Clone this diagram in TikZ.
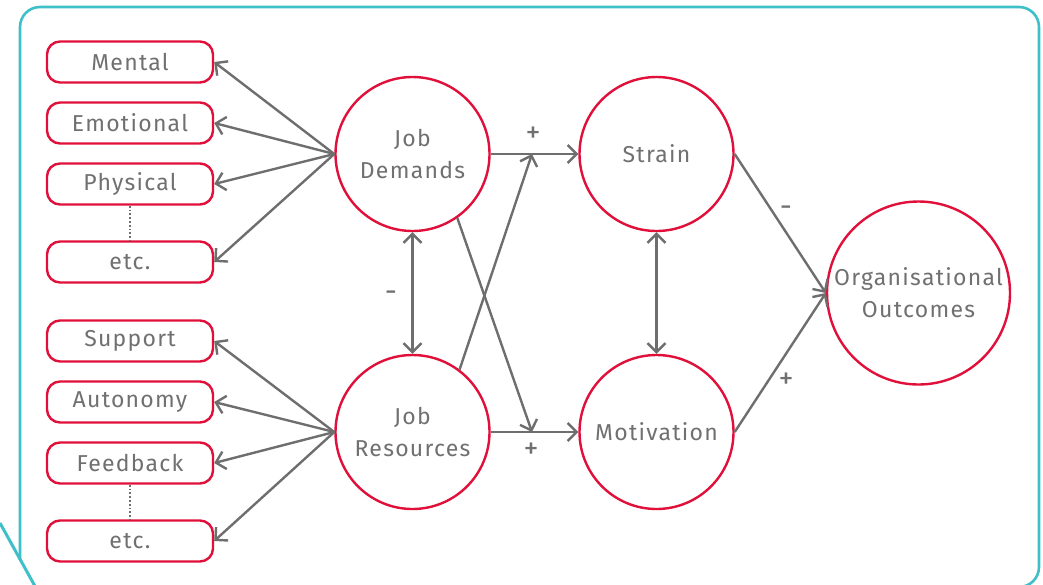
\documentclass[tikz,border=0pt]{standalone}
\usepackage{fontspec}
\setmainfont{Fira Sans}[LetterSpace=5.5]
\usetikzlibrary{arrows.meta}
\definecolor{frameteal}{HTML}{3FBFC7}
\definecolor{boxred}{HTML}{E0103A}
\definecolor{linegrey}{HTML}{6E6E6E}
\definecolor{textgrey}{HTML}{707070}
\tikzset{
  factor/.style={draw=boxred, line width=2.4pt, rounded corners=13pt, fill=white,
    minimum width=166pt, minimum height=41pt, inner sep=0pt, text=textgrey,
    font=\fontsize{23}{27}\selectfont},
  construct/.style={draw=boxred, line width=2.4pt, circle, fill=white,
    minimum size=154pt, inner sep=0pt, text=textgrey, align=center,
    font=\fontsize{23}{32}\selectfont},
  link/.style={draw=linegrey, line width=2.4pt,
    -{Straight Barb[length=9pt,width=18pt]}},
  twoway/.style={draw=linegrey, line width=2.4pt,
    {Straight Barb[length=9pt,width=18pt]}-{Straight Barb[length=9pt,width=18pt]}},
  sign/.style={text=textgrey, font=\fontsize{30}{32}\selectfont, inner sep=0pt},
  etcdots/.style={draw=linegrey, line width=1.8pt, dotted}
}
\begin{document}
\begin{tikzpicture}[x=1pt,y=-1pt]
\useasboundingbox (0,0) rectangle (1043,584);

% outer frame and corner stroke
\draw[frameteal, line width=2.6pt, rounded corners=20pt]
  (20,560) -- (20,7) -- (1039,7) -- (1039,587) -- (990,587);
\draw[frameteal, line width=3pt] (0,523) -- (36,588);

% demand factors
\node[factor] (mental) at (130,62) {Mental};
\node[factor] (emot) at (130,123) {Emotional};
\node[factor] (phys) at (130,184) {Physical};
\node[factor] (detc) at (130,262) {etc.};
% resource factors
\node[factor] (supp) at (130,341) {Support};
\node[factor] (auto) at (130,402) {Autonomy};
\node[factor] (feed) at (130,463) {Feedback};
\node[factor] (retc) at (130,541) {etc.};

\draw[etcdots] (phys.south) -- (detc.north);
\draw[etcdots] (feed.south) -- (retc.north);

% main constructs
\node[construct] (jd) at (412.5,154) {Job\\Demands};
\node[construct] (jr) at (412.5,432) {Job\\Resources};
\node[construct] (strain) at (656.5,154) {Strain};
\node[construct] (mot) at (656.5,432) {Motivation};
\node[construct, minimum size=183pt] (org) at (918.5,293) {Organisational\\Outcomes};

% meeting points of the crossing paths
\coordinate (upmeet) at (532,154);
\coordinate (downmeet) at (532,432);

% factor arrows
\foreach \f in {mental,emot,phys,detc} \draw[link] (jd.west) -- (\f.east);
\foreach \f in {supp,auto,feed,retc} \draw[link] (jr.west) -- (\f.east);

% dual process paths
\draw[link] (jd.east) -- (strain.west);
\draw[link] (jr.east) -- (mot.west);
\draw[link] (jd.-55) -- (downmeet);
\draw[link] (jr.53) -- (upmeet);
\draw[twoway] (jd.south) -- (jr.north);
\draw[twoway] (strain.south) -- (mot.north);
\draw[link] (strain.east) -- (org.west);
\draw[link] (mot.east) -- (org.west);

% signs
\node[sign] (s1) at (533,135) {+};
\node[sign] (s2) at (531,451) {+};
\node[sign] (s3) at (391,296) {-};
\node[sign] (s4) at (786,211) {-};
\node[sign] (s5) at (786,381) {+};
\end{tikzpicture}
\end{document}
